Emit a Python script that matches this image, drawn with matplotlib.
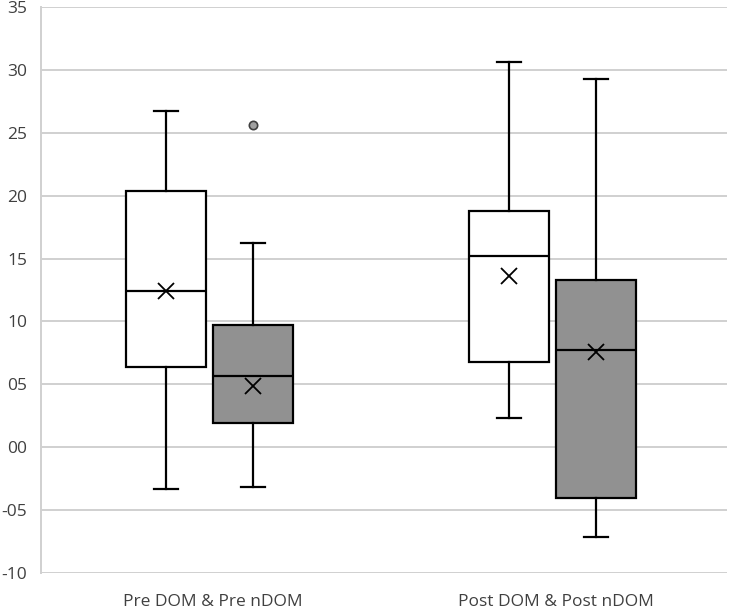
import matplotlib.pyplot as plt
import matplotlib as mpl
from matplotlib.ticker import FuncFormatter, MultipleLocator

mpl.rcParams['font.family'] = ['Open Sans', 'DejaVu Sans']

# box statistics: [white DOM box, grey nDOM box] per group
categories = ['Pre DOM & Pre nDOM', 'Post DOM & Post nDOM']
whislo = [[-3.3, -3.2], [2.3, -7.1]]
q1 = [[6.4, 1.9], [6.8, -4.0]]
med = [[12.4, 5.7], [15.2, 7.7]]
q3 = [[20.4, 9.7], [18.8, 13.3]]
whishi = [[26.7, 16.2], [30.6, 29.3]]
mean = [[12.4, 4.9], [13.6, 7.6]]
fliers = [[[], [25.6]], [[], []]]

fills = ['white', '#919191']
offsets = [-0.136, 0.118]

fig = plt.figure(figsize=(7.29, 6.09), dpi=100)
ax = fig.add_axes([41 / 729, 1 - 573 / 609, 686 / 729, 566 / 609])

for k in range(2):
    stats = []
    for g in range(len(categories)):
        stats.append(dict(whislo=whislo[g][k], q1=q1[g][k], med=med[g][k],
                          q3=q3[g][k], whishi=whishi[g][k], mean=mean[g][k],
                          fliers=fliers[g][k]))
    pos = [g + 1 + offsets[k] for g in range(len(categories))]
    ax.bxp(stats, positions=pos, widths=0.233, patch_artist=True,
           showmeans=True, capwidths=0.068,
           boxprops=dict(facecolor=fills[k], edgecolor='black', linewidth=1.6),
           medianprops=dict(color='black', linewidth=1.6),
           whiskerprops=dict(color='black', linewidth=1.6),
           capprops=dict(color='black', linewidth=1.6),
           meanprops=dict(marker='x', markeredgecolor='black', markersize=12,
                          markeredgewidth=1.3),
           flierprops=dict(marker='o', markerfacecolor='#a0a0a0',
                           markeredgecolor='#404040', markersize=6,
                           markeredgewidth=1.2),
           zorder=3)

ax.set_xlim(0.5, 2.5)
ax.set_ylim(-10, 35)
ax.set_xticks([1, 2])
ax.set_xticklabels(categories)
ax.yaxis.set_major_locator(MultipleLocator(5))
ax.yaxis.set_major_formatter(FuncFormatter(
    lambda v, p: ('-' if v < 0 else '') + '%02d' % abs(int(round(v)))))
ax.grid(axis='y', color='#d0d0d0', linewidth=1.4, zorder=0)
ax.set_axisbelow(True)
for s in ['top', 'right', 'bottom']:
    ax.spines[s].set_visible(False)
ax.spines['left'].set_color('#d0d0d0')
ax.spines['left'].set_linewidth(1.4)
ax.tick_params(length=0, labelsize=12.5, colors='#404040')
ax.tick_params(axis='x', pad=15)
ax.tick_params(axis='y', pad=10)

fig.savefig('out.png', dpi=100)
